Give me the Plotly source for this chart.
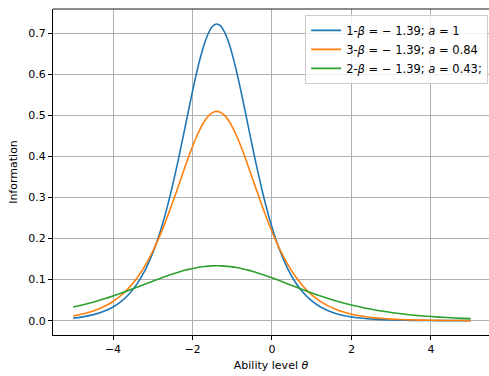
import plotly.graph_objects as go

# Ability levels (theta); finer spacing around the peak
theta = [-5.0, -4.8, -4.6, -4.4, -4.2, -4.0, -3.8, -3.6, -3.4, -3.2,
         -3.0, -2.8, -2.6, -2.4, -2.3, -2.2, -2.1, -2.0, -1.9, -1.8,
         -1.7, -1.6, -1.5, -1.4, -1.3, -1.2, -1.1, -1.0, -0.9, -0.8,
         -0.7, -0.6, -0.5, -0.4, -0.2, 0.0, 0.2, 0.4, 0.6, 0.8,
         1.0, 1.2, 1.4, 1.6, 1.8, 2.0, 2.2, 2.4, 2.6, 2.8,
         3.0, 3.2, 3.4, 3.6, 3.8, 4.0, 4.2, 4.4, 4.6, 4.8, 5.0]

# Item information, item 1 (beta = -1.39, a = 1)
info_item1 = [0.00622, 0.00872, 0.01223, 0.01712, 0.02393, 0.03340, 0.04648, 0.06445, 0.08889, 0.12174,
              0.16509, 0.22093, 0.29045, 0.37303, 0.41822, 0.46498, 0.51218, 0.55843, 0.60208, 0.64140,
              0.67457, 0.69996, 0.71622, 0.72245, 0.71829, 0.70398, 0.68032, 0.64857, 0.61035, 0.56742,
              0.52156, 0.47443, 0.42748, 0.38190, 0.29815, 0.22725, 0.17009, 0.12557, 0.09177, 0.06657,
              0.04804, 0.03452, 0.02474, 0.01770, 0.01264, 0.00902, 0.00643, 0.00459, 0.00327, 0.00233,
              0.00166, 0.00118, 0.00084, 0.00060, 0.00043, 0.00030, 0.00022, 0.00015, 0.00011, 0.00008, 0.00006]

# Item information, item 3 (beta = -1.39, a = 0.84)
info_item3 = [0.01163, 0.01542, 0.02041, 0.02698, 0.03558, 0.04679, 0.06130, 0.07992, 0.10352, 0.13298,
              0.16901, 0.21191, 0.26122, 0.31534, 0.34329, 0.37117, 0.39835, 0.42413, 0.44776, 0.46849,
              0.48562, 0.49851, 0.50667, 0.50977, 0.50770, 0.50053, 0.48855, 0.47223, 0.45216, 0.42905,
              0.40365, 0.37669, 0.34890, 0.32091, 0.26646, 0.21657, 0.17300, 0.13628, 0.10619, 0.08204,
              0.06296, 0.04808, 0.03657, 0.02774, 0.02099, 0.01586, 0.01196, 0.00902, 0.00679, 0.00511,
              0.00385, 0.00290, 0.00218, 0.00164, 0.00123, 0.00093, 0.00069, 0.00052, 0.00039, 0.00029, 0.00022]

# Item information, item 2 (beta = -1.39, a = 0.43)
info_item2 = [0.03325, 0.03769, 0.04260, 0.04797, 0.05382, 0.06013, 0.06685, 0.07392, 0.08126, 0.08874,
              0.09624, 0.10356, 0.11053, 0.11692, 0.11984, 0.12253, 0.12498, 0.12716, 0.12905, 0.13063,
              0.13189, 0.13281, 0.13337, 0.13359, 0.13345, 0.13295, 0.13210, 0.13091, 0.12940, 0.12757,
              0.12544, 0.12304, 0.12039, 0.11752, 0.11119, 0.10428, 0.09698, 0.08950, 0.08200, 0.07464,
              0.06754, 0.06078, 0.05443, 0.04854, 0.04311, 0.03816, 0.03368, 0.02964, 0.02602, 0.02280,
              0.01994, 0.01741, 0.01518, 0.01322, 0.01150, 0.01000, 0.00868, 0.00754, 0.00654, 0.00567, 0.00491]

series = [
    ("1-<i>β</i> = − 1.39; <i>a</i> = 1", info_item1, "#1f77b4"),
    ("3-<i>β</i> = − 1.39; <i>a</i> = 0.84", info_item3, "#ff7f0e"),
    ("2-<i>β</i> = − 1.39; <i>a</i> = 0.43;", info_item2, "#2ca02c"),
]

FONT = "DejaVu Sans"
FS = 11
FS_LEG = 11.5

fig = go.Figure()
for name, vals, color in series:
    fig.add_trace(go.Scatter(
        x=theta, y=vals, mode="lines", name=name,
        line=dict(color=color, width=1.6, shape="spline", smoothing=1.0),
    ))

axis_common = dict(
    showgrid=True, gridcolor="#b0b0b0", gridwidth=0.8,
    zeroline=False, showline=True, linecolor="black", linewidth=0.9,
    ticks="outside", ticklen=4, tickwidth=0.9, tickcolor="black",
    tickfont=dict(family=FONT, size=FS, color="black"),
)

fig.update_xaxes(
    range=[-5.51, 5.46], tickvals=[-4, -2, 0, 2, 4],
    ticktext=["−4", "−2", "0", "2", "4"],
    title=dict(text="Ability level <i>θ</i>", font=dict(family=FONT, size=FS, color="black"), standoff=6),
    **axis_common,
)
fig.update_yaxes(
    range=[-0.0349, 0.759], tickvals=[0.0, 0.1, 0.2, 0.3, 0.4, 0.5, 0.6, 0.7],
    ticktext=["0.0", "0.1", "0.2", "0.3", "0.4", "0.5", "0.6", "0.7"],
    title=dict(text="Information", font=dict(family=FONT, size=FS, color="black"), standoff=8),
    **axis_common,
)

# top spine
fig.add_shape(type="line", xref="paper", yref="paper", x0=0, x1=1, y0=1, y1=1,
              line=dict(color="black", width=0.9))

fig.update_layout(
    width=489, height=376,
    margin=dict(l=53, r=0, t=9, b=41),
    plot_bgcolor="white", paper_bgcolor="white",
    font=dict(family=FONT, size=FS, color="black"),
    showlegend=True,
    legend=dict(
        x=0.998, y=0.982, xanchor="right", yanchor="top",
        bgcolor="rgba(255,255,255,0.8)", bordercolor="#cccccc", borderwidth=1,
        font=dict(family=FONT, size=FS_LEG, color="black"),
    ),
)

fig.write_html("out.html")
